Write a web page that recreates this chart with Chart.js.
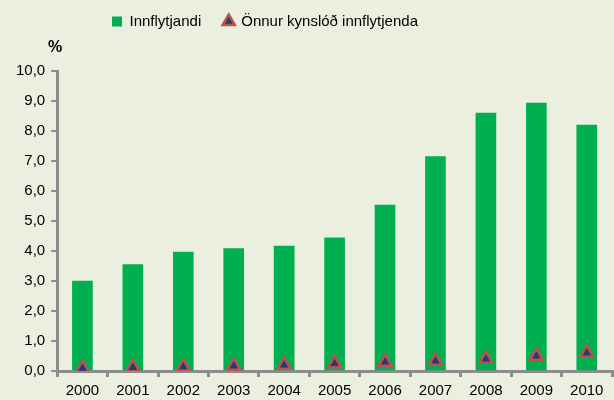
<!DOCTYPE html>
<html>
<head>
<meta charset="utf-8">
<script src="https://cdn.jsdelivr.net/npm/chart.js@4/dist/chart.umd.min.js"></script>
<style>
  html, body { margin: 0; padding: 0; background: #ebefdf; }
  #wrap { width: 614px; height: 400px; }
</style>
</head>
<body>
<div id="wrap"><canvas id="chart"></canvas></div>
<script>
const years = ['2000','2001','2002','2003','2004','2005','2006','2007','2008','2009','2010'];
const innflytjandi = [3.0, 3.55, 3.96, 4.08, 4.16, 4.44, 5.53, 7.15, 8.6, 8.93, 8.2];
const onnurKynslod = [0.09, 0.12, 0.14, 0.17, 0.2, 0.25, 0.3, 0.33, 0.4, 0.5, 0.6];

const axisColor = '#8c8c8c';
const fontFamily = '"Liberation Sans", Arial, sans-serif';

// draws the "%" unit above the y axis
const unitLabel = {
    id: 'unitLabel',
    afterDraw(chart) {
        const y = chart.scales.y;
        const ctx = chart.ctx;
        ctx.save();
        ctx.font = 'bold 16px ' + fontFamily;
        ctx.fillStyle = '#000';
        ctx.textAlign = 'center';
        ctx.textBaseline = 'middle';
        ctx.fillText('%', y.right - 2, y.top - 23);
        ctx.restore();
    }
};

// extra room under the legend
const legendSpace = {
    id: 'legendSpace',
    beforeInit(chart) {
        const origFit = chart.legend.fit;
        chart.legend.fit = function () {
            origFit.bind(chart.legend)();
            this.height += 32;
        };
    }
};

// stretch the plot to the right edge and nudge the legend left, like the original
const stretchRight = {
    id: 'stretchRight',
    afterLayout(chart) {
        const x = chart.scales.x;
        const target = chart.width - 2;
        if (x.right < target) {
            x.right = target;
            x.width = x.right - x.left;
            chart.chartArea.right = target;
            chart.chartArea.width = target - chart.chartArea.left;
            x.configure();
        }
        chart.legend.left -= 46;
        chart.legend.right -= 46;
    }
};

new Chart(document.getElementById('chart'), {
    type: 'bar',
    data: {
        labels: years,
        datasets: [
            {
                type: 'line',
                label: 'Önnur kynslóð innflytjenda',
                data: onnurKynslod,
                showLine: false,
                pointStyle: 'triangle',
                pointRadius: 7.5,
                pointHoverRadius: 7.5,
                pointBackgroundColor: '#1f3b78',
                pointBorderColor: '#c0504d',
                pointBorderWidth: 2.5,
                order: 0
            },
            {
                label: 'Innflytjandi',
                data: innflytjandi,
                backgroundColor: '#00b050',
                pointStyle: 'rect',
                barThickness: 20,
                order: 1
            }
        ]
    },
    options: {
        responsive: true,
        maintainAspectRatio: false,
        animation: false,
        layout: { padding: { left: 10, right: 2, top: 4, bottom: -5 } },
        plugins: {
            legend: {
                reverse: true,
                labels: {
                    usePointStyle: true,
                    boxWidth: 10,
                    boxHeight: 10,
                    padding: 10,
                    color: '#000',
                    font: { family: fontFamily, size: 15 },
                    generateLabels(chart) {
                        const items = Chart.defaults.plugins.legend.labels.generateLabels(chart);
                        items.forEach(it => {
                            if (it.text === 'Innflytjandi') it.text = 'Innflytjandi   ';
                        });
                        return items;
                    }
                }
            },
            tooltip: { enabled: false }
        },
        scales: {
            x: {
                grid: { display: true, drawOnChartArea: false, offset: true, color: axisColor, lineWidth: 3, tickLength: 6 },
                border: { color: axisColor, width: 3 },
                ticks: { color: '#000', font: { family: fontFamily, size: 15 }, maxRotation: 0, padding: 5 }
            },
            y: {
                min: 0,
                max: 10,
                ticks: {
                    stepSize: 1,
                    color: '#000',
                    font: { family: fontFamily, size: 15 },
                    padding: 6,
                    callback: v => v.toFixed(1).replace('.', ',')
                },
                grid: { display: true, drawOnChartArea: false, color: axisColor, lineWidth: 2, tickLength: 6 },
                border: { color: axisColor, width: 3 }
            }
        }
    },
    plugins: [unitLabel, legendSpace, stretchRight]
});
</script>
</body>
</html>
